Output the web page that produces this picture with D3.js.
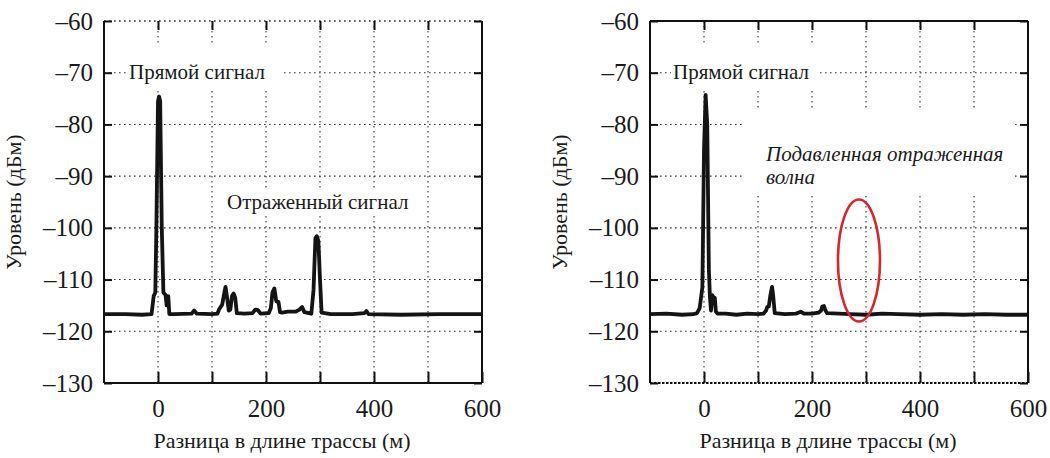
<!DOCTYPE html>
<html>
<head>
<meta charset="utf-8">
<script src="https://cdn.jsdelivr.net/npm/d3@7"></script>
<style>
  html, body { margin: 0; padding: 0; background: #fff; }
  svg { display: block; }
  text { font-family: "Liberation Serif", "DejaVu Serif", "Noto Serif", "Times New Roman", Times, serif; fill: #1a1a1a; }
</style>
</head>
<body>
<svg id="chart" width="1050" height="458"></svg>
<script>
// ---- data ----
const xTickLabels = [0, 200, 400, 600];
const xGridValues = [0, 100, 200, 300, 400, 500];
const yTickValues = [-60, -70, -80, -90, -100, -110, -120, -130];

// left panel: with reflected signal
const leftDist = [-100, -60, -30, -12, -8, -5, -3, 0, 2, 4, 7, 10, 14, 16, 17, 19, 21, 30, 62, 67, 72, 100, 110, 113, 116, 119, 122, 125, 128, 131, 134, 137, 140, 143, 146, 160, 175, 180, 185, 190, 205, 209, 212, 215.5, 219, 223, 226, 230, 240, 255, 262, 266.7, 271, 284, 288, 291.5, 294, 297, 300, 303, 320, 360, 382, 386, 390, 450, 520, 600];
const leftLevel = [-116.7, -116.7, -116.8, -116.7, -113.2, -112.5, -100, -75.5, -74.6, -75.5, -100, -112.5, -113, -115, -113.2, -113.2, -116.7, -116.7, -116.6, -116.0, -116.6, -116.7, -116.6, -115.8, -115.3, -114.8, -113, -111.4, -113.5, -116.0, -115.8, -113.2, -112.7, -113.5, -116.5, -116.6, -116.5, -115.8, -115.9, -116.6, -116.5, -115.5, -112.5, -111.7, -114.2, -114.3, -116.3, -116.4, -116.2, -116.2, -115.8, -115.3, -116.3, -116.6, -112, -102, -101.6, -102.5, -110, -116.4, -116.7, -116.7, -116.5, -116.1, -116.7, -116.8, -116.7, -116.7];

// right panel: reflected wave suppressed
const rightDist = [-100, -70, -40, -20, -13, -8, -3, 0, 3, 6, 9, 11, 13, 15.5, 18, 20, 22, 25, 40, 60, 80, 100, 110, 115, 117, 120, 123, 126, 128, 131, 150, 170, 179, 185, 200, 212, 217, 219, 222, 225, 228, 250, 270, 300, 330, 360, 400, 440, 480, 520, 560, 600];
const rightLevel = [-116.7, -116.6, -116.8, -116.7, -116.5, -115.5, -111.5, -85, -74.3, -80, -108, -113.5, -116, -113.0, -114, -113.5, -116.2, -116.6, -116.6, -116.8, -116.6, -116.7, -116.6, -116.0, -115.3, -115.2, -113, -111.4, -113, -116.5, -116.7, -116.6, -116.2, -116.6, -116.6, -116.4, -116.0, -115.2, -115.1, -116.0, -116.5, -116.6, -116.7, -116.8, -116.6, -116.7, -116.8, -116.7, -116.8, -116.7, -116.8, -116.8];

const titleAxisY = "Уровень (дБм)";
const titleAxisX = "Разница в длине трассы (м)";

// ---- drawing ----
const svg = d3.select("#chart");
const fmt = d => (d < 0 ? "\u2013" + Math.abs(d) : String(d));
const FONT = '"Liberation Serif", "DejaVu Serif", "Noto Serif", serif';

function panel(opts) {
  const x = d3.scaleLinear().domain([-100, 600]).range([opts.left, opts.left + 378]);
  const y = d3.scaleLinear().domain([-130, -60]).range([383, 21]);
  const g = svg.append("g");

  // grid
  const grid = g.append("g").attr("stroke", "#333").attr("stroke-width", 1.1)
    .attr("stroke-dasharray", "1.6,3.4");
  grid.selectAll("line.vx").data(xGridValues).join("line")
    .attr("x1", d => x(d)).attr("x2", d => x(d)).attr("y1", y(-60)).attr("y2", y(-130));
  grid.selectAll("line.hy").data(yTickValues.filter(v => v !== -130)).join("line")
    .attr("x1", x(-100)).attr("x2", x(600)).attr("y1", d => y(d)).attr("y2", d => y(d));

  // white boxes behind annotations
  opts.boxes.forEach(b => {
    g.append("rect").attr("x", b[0]).attr("y", b[1]).attr("width", b[2]).attr("height", b[3]).attr("fill", "#fff");
  });

  // frame
  const fr = g.append("g").attr("stroke", "#111").attr("stroke-width", 2).attr("fill", "none");
  fr.append("line").attr("x1", x(-100)).attr("x2", x(-100)).attr("y1", y(-60)).attr("y2", y(-130));
  fr.append("line").attr("x1", x(600)).attr("x2", x(600)).attr("y1", y(-60)).attr("y2", y(-130));
  fr.append("line").attr("x1", x(-100)).attr("x2", x(600)).attr("y1", y(-130)).attr("y2", y(-130))
    .attr("stroke-dasharray", opts.bottomDotted ? "2.5,1.5" : null);
  fr.append("line").attr("x1", x(-100)).attr("x2", x(600)).attr("y1", y(-60)).attr("y2", y(-60))
    .attr("stroke-dasharray", opts.topDotted ? "1.6,3.4" : null)
    .attr("stroke-width", opts.topDotted ? 1.1 : 2).attr("stroke", opts.topDotted ? "#333" : "#111");

  // axes
  const yAxis = d3.axisLeft(y).tickValues(yTickValues).tickSizeInner(-8).tickSizeOuter(0).tickPadding(11).tickFormat(fmt);
  const ga = g.append("g").attr("transform", `translate(${x(-100)},0)`).call(yAxis);
  ga.select(".domain").remove();
  ga.attr("font-family", FONT);
  ga.selectAll(".tick line").attr("stroke", "#111").attr("stroke-width", 2);
  ga.selectAll(".tick text").attr("font-size", 25).attr("fill", "#1a1a1a");

  const yAxisR = d3.axisRight(y).tickValues(yTickValues).tickSizeInner(-8).tickSizeOuter(0).tickFormat("");
  const gr = g.append("g").attr("transform", `translate(${x(600)},0)`).call(yAxisR);
  gr.select(".domain").remove();
  gr.selectAll(".tick line").attr("stroke", "#111").attr("stroke-width", 2);

  const xAxis = d3.axisBottom(x).tickValues(xGridValues.concat([600])).tickSizeInner(-11).tickSizeOuter(0).tickPadding(16)
    .tickFormat(d => xTickLabels.includes(d) ? fmt(d) : "");
  const gx = g.append("g").attr("transform", `translate(0,${y(-130)})`).call(xAxis);
  gx.select(".domain").remove();
  gx.attr("font-family", FONT);
  gx.selectAll(".tick line").attr("stroke", "#111").attr("stroke-width", 2);
  gx.selectAll(".tick text").attr("font-size", 25).attr("fill", "#1a1a1a");

  const xAxisT = d3.axisTop(x).tickValues(xGridValues).tickSizeInner(-9).tickSizeOuter(0).tickFormat("");
  const gt = g.append("g").attr("transform", `translate(0,${y(-60)})`).call(xAxisT);
  gt.select(".domain").remove();
  gt.selectAll(".tick line").attr("stroke", "#111").attr("stroke-width", 2);

  // series
  const line = d3.line().x(d => x(d[0])).y(d => y(d[1]));
  g.append("path").datum(d3.zip(opts.dist, opts.level))
    .attr("d", line).attr("fill", "none").attr("stroke", "#141414")
    .attr("stroke-width", 3.8).attr("stroke-linejoin", "round");

  // axis titles
  g.append("text").attr("transform", `translate(${opts.left - 83},${202}) rotate(-90)`)
    .attr("text-anchor", "middle").attr("font-size", 22).text(titleAxisY);
  g.append("text").attr("x", x(250) - 11).attr("y", 448)
    .attr("text-anchor", "middle").attr("font-size", 22).text(titleAxisX);

  // annotations
  opts.labels.forEach(l => {
    g.append("text").attr("x", l.x).attr("y", l.y).attr("font-size", l.size)
      .attr("font-style", l.italic ? "italic" : null).text(l.t);
  });
  return { x, y, g };
}

panel({
  left: 104, dist: leftDist, level: leftLevel, topDotted: true, bottomDotted: false,
  boxes: [[126, 43, 156, 45], [224, 188, 192, 28]],
  labels: [
    { t: "Прямой сигнал", x: 129, y: 79, size: 21 },
    { t: "Отраженный сигнал", x: 227, y: 209, size: 21 }
  ]
});

const R = panel({
  left: 650, dist: rightDist, level: rightLevel, topDotted: false, bottomDotted: true,
  boxes: [[671, 43, 146, 48], [743, 110, 269, 86]],
  labels: [
    { t: "Прямой сигнал", x: 673, y: 79, size: 21 },
    { t: "Подавленная отраженная", x: 766, y: 161, size: 21, italic: true },
    { t: "волна", x: 766, y: 184, size: 21, italic: true }
  ]
});

// red ellipse marking where the reflected wave was
R.g.append("ellipse")
  .attr("cx", R.x(287)).attr("cy", R.y(-106.3))
  .attr("rx", 21).attr("ry", 61)
  .attr("fill", "none").attr("stroke", "#d8262a").attr("stroke-width", 2.6);
</script>
</body>
</html>
